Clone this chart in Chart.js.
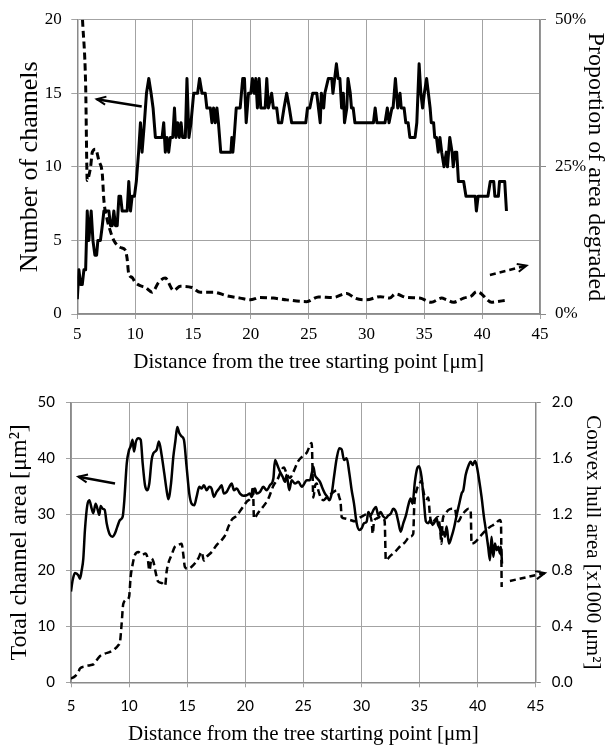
<!DOCTYPE html>
<html>
<head>
<meta charset="utf-8">
<script src="https://cdn.jsdelivr.net/npm/chart.js@4"></script>
<style>
html, body { margin: 0; padding: 0; background: #fff; }
canvas { display: block; }
</style>
</head>
<body>
<canvas id="topChart" width="607" height="375"></canvas>
<canvas id="bottomChart" width="607" height="370"></canvas>
<script>
// Top panel: number of channels (left) and proportion of area degraded (right, %)
const chanX = [5.0,5.14,5.29,5.43,5.57,5.72,5.86,6.0,6.2,6.35,6.52,6.67,6.78,7.0,7.16,7.3,7.73,7.87,8.02,8.16,8.3,8.45,8.6,8.74,8.88,9.31,9.45,9.6,9.74,9.94,10.1,10.3,10.46,10.6,10.8,10.98,11.18,11.38,11.55,11.75,12.33,12.47,12.61,12.76,12.9,13.05,13.25,13.4,13.53,13.68,13.82,13.97,14.1,14.34,14.48,14.65,14.83,15.06,15.4,15.57,15.78,16.06,16.2,16.5,16.64,16.78,16.93,17.07,17.2,17.4,18.28,18.36,18.45,18.56,18.74,19.08,19.3,19.45,19.6,19.8,20.0,20.14,20.29,20.43,20.57,20.72,20.86,21.24,21.38,21.52,21.8,21.95,22.24,22.39,22.67,22.87,23.1,23.33,23.53,24.75,24.9,25.1,25.35,25.7,25.85,26.0,26.1,26.3,26.4,26.7,27.0,27.1,27.4,27.55,27.7,27.85,28.0,28.1,28.3,28.4,28.6,28.7,28.85,29.0,30.6,30.75,30.9,31.6,31.8,31.95,32.2,32.3,32.5,32.7,32.9,33.0,33.25,33.4,33.6,33.75,34.2,34.35,34.55,34.7,34.85,35.0,35.2,35.35,35.5,35.6,35.8,35.9,36.05,36.2,36.35,36.5,36.7,36.9,37.0,37.2,37.4,37.5,37.65,37.8,37.95,38.4,38.6,39.4,39.5,39.65,40.5,40.7,41.0,41.1,41.4,41.5,41.95,42.1];
const chanCount = [1,3,2,2,3,3,7,5,7,5,4,4,5,5,6,7,7,6,6,7,6,6,8,8,7,7,9,7,8,8,9,11,13,11,13,15,16,15,14,12,12,13,11,12,11,12,12,14,12,13,12,13,12,12,16,12,13,15,15,16,15,15,14,14,13,14,13,14,13,11,11,12,11,12,14,14,16,16,13,15,15,16,15,16,14,16,14,14,16,14,15,14,14,13,13,14,15,14,13,13,14,14,15,15,14,13,15,14,15,16,16,15,17,16,16,14,15,13,14,16,15,14,14,13,13,14,13,13,14,13,14,14,16,14,15,14,14,13,13,12,12,13,17,15,14,15,16,15,14,13,13,12,12,11,12,11,10,11,10,12,11,10,11,11,9,9,8,8,7,8,8,9,9,8,8,9,9,7];

const degX = [5.45,5.72,5.86,6.0,6.15,6.3,6.58,6.87,7.16,7.3,7.59,7.87,8.16,8.74,9.17,9.3,9.45,9.74,10.0,10.46,10.9,11.47,12.04,12.6,13.33,13.9,14.9,15.63,16.78,17.93,19.08,19.94,20.8,21.95,23.1,24.83,25.85,27.1,28.3,29.0,30.0,31.2,32.0,32.5,33.5,34.6,35.6,36.5,36.9,37.5,38.4,39.1,39.5,39.95,40.4,40.8,41.25,41.95];
const degPct = [50,39,22.7,23.5,25,27.5,28,26,23.8,19.3,16,14,12.5,11.3,10.8,9.5,6.8,6.2,5.4,4.8,4.5,3.7,5.4,6.1,4,4.7,4.5,3.7,3.7,3.1,2.7,2.4,2.8,2.7,2.4,2.1,2.9,2.8,3.5,2.7,2.4,2.95,2.7,3.4,2.8,2.7,2.0,2.7,2.45,2.0,2.7,3.1,3.8,3.4,2.5,2.0,2.1,2.3];

// Bottom panel: total channel area (left, um^2) and convex hull area (right, x1000 um^2)
const areaX = [5.0,5.14,5.34,5.63,5.77,5.92,6.06,6.2,6.4,6.58,6.78,6.92,7.12,7.3,7.44,7.55,7.72,7.9,8.07,8.36,8.59,8.79,8.99,9.22,9.45,9.59,9.8,10.0,10.13,10.3,10.42,10.59,10.8,11.0,11.17,11.37,11.57,11.74,11.94,12.09,12.37,12.57,12.8,13.03,13.23,13.38,13.61,13.81,13.98,14.15,14.32,14.52,14.72,14.95,15.18,15.38,15.61,15.81,16.04,16.24,16.44,16.67,16.9,17.1,17.3,17.53,17.76,17.96,18.16,18.4,18.63,18.83,19.03,19.26,19.55,19.83,20.12,20.4,20.55,20.84,20.98,21.27,21.55,21.84,22.13,22.42,22.56,22.76,22.99,23.22,23.42,23.56,23.79,23.99,24.28,24.57,24.86,25.0,25.29,25.57,25.72,25.86,26.0,26.2,26.43,26.66,26.86,27.07,27.24,27.44,27.64,27.87,28.1,28.3,28.5,28.73,28.96,29.16,29.36,29.59,29.82,30.02,30.22,30.45,30.59,30.8,31.02,31.25,31.45,31.65,31.88,32.11,32.31,32.52,32.74,32.97,33.17,33.38,33.6,33.83,34.03,34.23,34.4,34.6,34.8,34.97,35.17,35.37,35.55,35.75,35.95,36.12,36.32,36.46,36.6,36.75,36.9,37.04,37.19,37.33,37.53,37.76,37.96,38.19,38.42,38.62,38.77,38.97,39.2,39.4,39.57,39.77,39.91,40.11,40.34,40.54,40.71,40.91,41.06,41.2,41.35,41.49,41.64,41.78,41.92,42.01,42.1];
const areaTotal = [16.2,18.2,19.5,19.1,18.5,20,22.1,27.2,31.6,32.5,31,30.2,31.9,30.8,29.9,31.5,31,30.8,28.4,26.3,26,26.6,27.8,29,29.6,32.5,39.1,41.5,42.1,43.3,41.2,43,43.6,43.3,39.1,35.2,34.3,35.5,39.7,40.9,41.5,43,40.6,37.3,34.3,32.7,35.5,40.3,43,45.6,44.5,43.9,43.3,38.5,33.7,31.9,31.6,33.1,34.9,34.6,35.2,34.3,34.9,34.6,33.1,34,34.6,35.2,33.7,34,34.9,35.5,34.3,34.6,33.7,33.3,33.4,33.7,33.1,34.6,33.7,34,34.9,34.3,35.2,36.4,39.7,38.8,37.6,36.7,35.8,37,34.3,36.1,35.5,35.8,34.9,35.2,36.1,36.1,37.3,38.5,37,36.4,35.8,34.6,33.7,33.1,32.5,33.7,36.7,40,41.8,41.6,39.7,40,37.3,34.3,31.9,28.4,27.2,27.5,28.4,28.7,30.4,29.8,30.7,31.3,29.8,30.4,29.6,29.3,29.8,30.1,31,30.4,28.7,26.9,28.4,29.8,31.6,32.8,31.9,35.8,38.2,38.6,36.7,32.5,28.7,28.4,29,28.1,28.7,29.3,28.1,27.5,26.3,26.9,26,27.8,24.8,26,27.5,29.8,31.9,33.7,34.3,37,38.6,39.4,38.8,39.5,38.8,36.4,33.1,29.6,27.2,24.2,21.8,26,22.4,24.8,23.6,24.2,23,24.2,21.2];

const hullX = [5.0,5.34,5.63,5.77,6.2,6.64,6.92,7.2,7.5,7.92,8.36,8.79,9.07,9.22,9.36,9.5,9.8,10.0,10.13,10.3,10.5,10.8,11.1,11.4,11.6,11.75,11.94,12.1,12.3,12.5,12.8,13.1,13.23,13.38,13.66,13.95,14.2,14.52,14.67,14.8,15.1,15.38,15.67,15.96,16.24,16.44,16.67,17.1,17.53,17.96,18.33,18.54,18.83,19.26,19.69,20.12,20.55,20.66,20.75,21.1,21.5,21.98,22.4,22.84,23.13,23.33,23.56,23.85,24.13,24.56,25.0,25.29,25.72,25.86,26.0,26.15,26.29,26.5,26.72,27.0,27.3,27.6,27.87,28.1,28.21,28.3,28.59,29.02,29.45,29.73,30.16,30.45,30.74,30.88,30.97,31.08,31.31,31.6,31.88,32.0,32.1,32.45,32.88,33.31,33.74,34.17,34.46,34.54,34.74,34.97,35.17,35.32,35.46,35.6,35.75,35.89,36.03,36.32,36.6,36.75,36.9,36.98,37.19,37.47,37.76,38.05,38.19,38.33,38.62,38.9,39.2,39.4,39.48,39.77,40.2,40.63,41.06,41.49,41.92,42.01,42.07];
const hullArea = [0.026,0.043,0.074,0.098,0.114,0.122,0.128,0.157,0.188,0.205,0.217,0.24,0.265,0.29,0.42,0.56,0.59,0.61,0.75,0.84,0.91,0.93,0.91,0.92,0.885,0.8,0.885,0.86,0.78,0.72,0.71,0.69,0.79,0.85,0.91,0.97,0.98,0.99,0.91,0.825,0.81,0.825,0.85,0.885,0.93,0.87,0.896,0.93,0.98,1.015,1.06,1.11,1.16,1.19,1.24,1.29,1.34,1.40,1.17,1.21,1.25,1.31,1.4,1.46,1.52,1.535,1.49,1.46,1.5,1.58,1.62,1.64,1.71,1.32,1.4,1.42,1.37,1.32,1.30,1.32,1.34,1.36,1.37,1.32,1.28,1.18,1.17,1.16,1.15,1.17,1.19,1.2,1.19,1.15,1.06,1.15,1.17,1.18,1.17,1.15,0.87,0.9,0.93,0.97,1.0,1.04,1.06,1.25,1.37,1.41,1.44,1.37,1.32,1.31,1.32,1.2,1.13,1.16,1.18,1.11,0.99,1.15,1.2,1.23,1.24,1.24,1.17,1.15,1.19,1.22,1.24,1.23,0.99,1.0,1.04,1.08,1.11,1.13,1.16,1.14,0.68];

const xTicks = [5, 10, 15, 20, 25, 30, 35, 40, 45];

// annotation arrows, in left-axis data units: [x1, y1, x2, y2], head at the second point
const topArrows = [
  { pts: [10.57, 14.1, 6.68, 14.6], dash: [] },
  { pts: [40.67, 2.65, 43.84, 3.29], dash: [6, 4] }
];
const bottomArrows = [
  { pts: [8.79, 35.5, 5.63, 36.7], dash: [] },
  { pts: [42.78, 18.1, 45.79, 19.5], dash: [6, 4] }
];

const toPoints = (xs, ys) => xs.map((x, i) => ({ x: x, y: ys[i] }));

const GRID = '#a3a3a3';
const AXIS = '#8a8a8a';
const SERIF = "'Liberation Serif', 'Times New Roman', serif";

const arrowPlugin = {
  id: 'arrows',
  afterDraw(chart, args, opts) {
    const { ctx, scales } = chart;
    (opts.list || []).forEach(a => {
      const [ax, ay, bx, by] = a.pts;
      const x1 = scales.x.getPixelForValue(ax), y1 = scales.y.getPixelForValue(ay);
      const x2 = scales.x.getPixelForValue(bx), y2 = scales.y.getPixelForValue(by);
      ctx.save();
      ctx.strokeStyle = '#000';
      ctx.lineWidth = 2.5;
      ctx.setLineDash(a.dash);
      ctx.beginPath();
      ctx.moveTo(x1, y1);
      ctx.lineTo(x2, y2);
      ctx.stroke();
      ctx.setLineDash([]);
      const ang = Math.atan2(y2 - y1, x2 - x1);
      const L = 10;
      ctx.lineWidth = 2;
      ctx.beginPath();
      ctx.moveTo(x2 - L * Math.cos(ang - 0.42), y2 - L * Math.sin(ang - 0.42));
      ctx.lineTo(x2, y2);
      ctx.lineTo(x2 - L * Math.cos(ang + 0.42), y2 - L * Math.sin(ang + 0.42));
      ctx.stroke();
      ctx.restore();
    });
  }
};

function xScale(tickFont, height, tickPad, titlePad) {
  return {
    type: 'linear',
    min: 5, max: 45,
    afterBuildTicks: s => { s.ticks = xTicks.map(v => ({ value: v })); },
    afterFit: s => { s.height = height; },
    grid: { color: GRID, tickLength: 5 },
    border: { color: AXIS, width: 1.5 },
    ticks: { font: tickFont, color: '#000', padding: tickPad, maxRotation: 0 },
    title: {
      display: true,
      text: 'Distance from the tree starting point [\u03bcm]',
      font: { family: SERIF, size: 21, lineHeight: 1 },
      color: '#000',
      padding: { top: 0, bottom: titlePad }
    }
  };
}

// ---------- top chart ----------
new Chart(document.getElementById('topChart'), {
  type: 'line',
  data: {
    datasets: [
      {
        data: toPoints(chanX, chanCount),
        yAxisID: 'y',
        borderColor: '#000', borderWidth: 3, pointRadius: 0, tension: 0,
        borderJoinStyle: 'round'
      },
      {
        data: toPoints(degX, degPct),
        yAxisID: 'y2',
        borderColor: '#000', borderWidth: 3, borderDash: [7, 4], pointRadius: 0,
        cubicInterpolationMode: 'monotone'
      }
    ]
  },
  options: {
    responsive: false,
    animation: false,
    layout: { padding: { top: 19.7, left: 0, right: 0, bottom: 0 } },
    plugins: { legend: { display: false }, tooltip: { enabled: false }, arrows: { list: topArrows } },
    scales: {
      x: xScale({ family: SERIF, size: 17 }, 61, 5, 1.6),
      y: {
        position: 'left',
        min: 0, max: 20,
        ticks: { stepSize: 5, font: { family: SERIF, size: 17 }, color: '#000', padding: 9.5 },
        afterFit: s => { s.width = 77.3; },
        grid: { color: GRID, tickLength: 6 },
        border: { color: AXIS, width: 1.5 },
        title: {
          display: true, text: 'Number of channels',
          font: { family: SERIF, size: 26, lineHeight: 1 }, color: '#000',
          padding: { top: 17, bottom: 0 }
        }
      },
      y2: {
        position: 'right',
        min: 0, max: 50,
        ticks: { stepSize: 25, font: { family: SERIF, size: 17 }, color: '#000', padding: 9, callback: v => v + '%' },
        afterFit: s => { s.width = 67; },
        grid: { drawOnChartArea: false, color: AXIS, tickLength: 6 },
        border: { color: AXIS, width: 1.5 },
        title: {
          display: true, text: 'Proportion of area degraded',
          font: { family: SERIF, size: 24, lineHeight: 1 }, color: '#000',
          padding: { top: 0, bottom: 0 }
        }
      }
    }
  },
  plugins: [arrowPlugin]
});

// ---------- bottom chart ----------
new Chart(document.getElementById('bottomChart'), {
  type: 'line',
  data: {
    datasets: [
      {
        data: toPoints(areaX, areaTotal),
        yAxisID: 'y',
        borderColor: '#000', borderWidth: 2.5, pointRadius: 0,
        cubicInterpolationMode: 'monotone'
      },
      {
        data: toPoints(hullX, hullArea),
        yAxisID: 'y2',
        borderColor: '#000', borderWidth: 2.5, borderDash: [7, 4], pointRadius: 0,
        cubicInterpolationMode: 'monotone'
      }
    ]
  },
  options: {
    responsive: false,
    animation: false,
    layout: { padding: { top: 27.3, left: 0, right: 0, bottom: 0 } },
    plugins: { legend: { display: false }, tooltip: { enabled: false }, arrows: { list: bottomArrows } },
    scales: {
      x: xScale({ family: 'Lato', size: 15 }, 62.7, 10, 0),
      y: {
        position: 'left',
        min: 0, max: 50,
        ticks: { stepSize: 10, font: { family: 'Lato', size: 15 }, color: '#000', padding: 11 },
        afterFit: s => { s.width = 71; },
        grid: { color: GRID, tickLength: 5 },
        border: { color: AXIS, width: 1.5 },
        title: {
          display: true, text: 'Total channel area [\u03bcm\u00b2]',
          font: { family: SERIF, size: 24, lineHeight: 1 }, color: '#000',
          padding: { top: 8, bottom: 0 }
        }
      },
      y2: {
        position: 'right',
        min: 0, max: 2,
        ticks: { stepSize: 0.4, font: { family: 'Lato', size: 15 }, color: '#000', padding: 11, callback: v => v.toFixed(1) },
        afterFit: s => { s.width = 71.3; },
        grid: { drawOnChartArea: false, color: AXIS, tickLength: 5 },
        border: { color: AXIS, width: 1.5 },
        title: {
          display: true, text: 'Convex hull area [x1000 \u03bcm\u00b2]',
          font: { family: SERIF, size: 21, lineHeight: 1 }, color: '#000',
          padding: { top: 3.5, bottom: 0 }
        }
      }
    }
  },
  plugins: [arrowPlugin]
});
</script>
</body>
</html>
